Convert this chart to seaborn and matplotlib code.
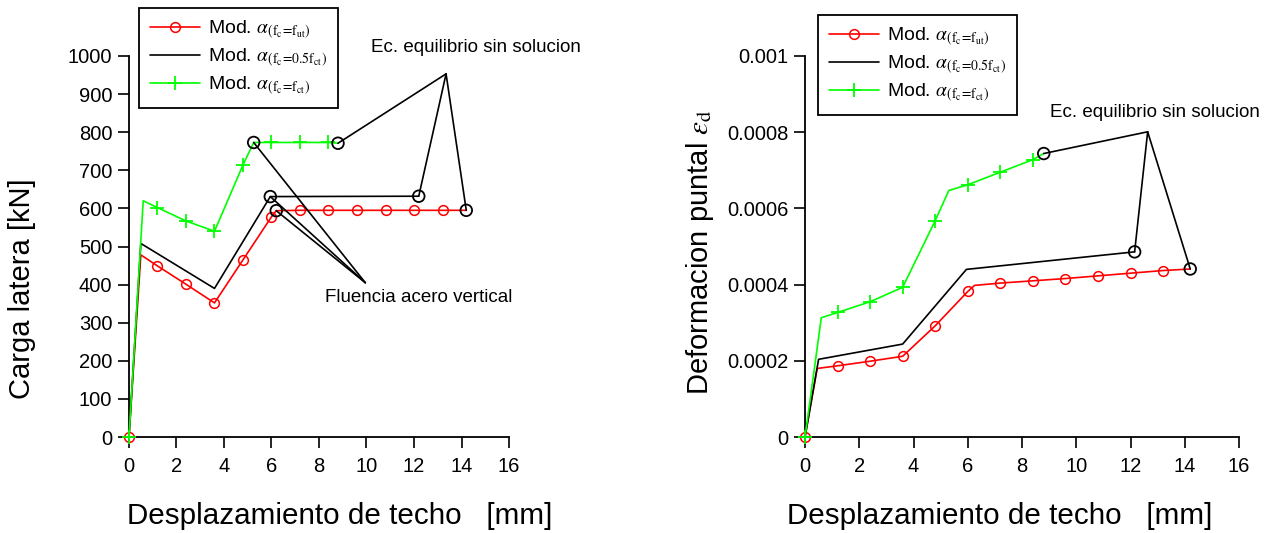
import matplotlib
matplotlib.use("Agg")
import matplotlib.pyplot as plt
import seaborn as sns
import pandas as pd

# ---------------- data: left panel (Carga lateral) ----------------
red_x = [0, 0.5, 1.2, 2.4, 3.6, 4.8, 6.0, 6.2, 7.2, 8.4, 9.6, 10.8, 12.0, 13.2, 14.2]
red_y = [0, 478, 449, 401, 352, 465, 578, 594, 595, 595, 595, 595, 595, 595, 595]
red_marks = [0, 2, 3, 4, 5, 6, 8, 9, 10, 11, 12, 13]

blk_x = [0, 0.5, 3.6, 5.95, 12.2]
blk_y = [0, 508, 390, 631, 632]

grn_x = [0, 0.6, 1.2, 2.4, 3.6, 4.8, 5.25, 6.0, 7.2, 8.4, 8.8]
grn_y = [0, 620, 602, 567, 540, 714, 773, 773, 773, 773, 771]
grn_marks = [0, 2, 3, 4, 5, 7, 8, 9]

# annotation apex points (left)
ec_apex_L = (13.35, 953)
fl_apex_L = (9.95, 405)

# ---------------- data: right panel (Deformacion puntal) ----------------
red2_x = [0, 0.45, 1.2, 2.4, 3.6, 4.8, 6.0, 6.25, 7.2, 8.4, 9.6, 10.8, 12.0, 13.2, 14.2]
red2_y = [0, 0.000180, 0.000187, 0.000199, 0.000212, 0.000292, 0.000382, 0.000398,
          0.000404, 0.000410, 0.000416, 0.000423, 0.000430, 0.000437, 0.000441]
red2_marks = [0, 2, 3, 4, 5, 6, 8, 9, 10, 11, 12, 13]

blk2_x = [0, 0.5, 3.6, 5.95, 12.15]
blk2_y = [0, 0.000204, 0.000244, 0.000440, 0.000486]

grn2_x = [0, 0.6, 1.2, 2.4, 3.6, 4.8, 5.3, 6.0, 7.2, 8.4, 8.8]
grn2_y = [0, 0.000313, 0.000327, 0.000355, 0.000393, 0.000568, 0.000647,
          0.000662, 0.000695, 0.000728, 0.000744]
grn2_marks = [0, 2, 3, 4, 5, 7, 8, 9]

ec_apex_R = (12.63, 0.000801)

# ticks / labels
x_ticks = [0, 2, 4, 6, 8, 10, 12, 14, 16]
yL_ticks = [0, 100, 200, 300, 400, 500, 600, 700, 800, 900, 1000]
yR_ticks = [0, 0.0002, 0.0004, 0.0006, 0.0008, 0.001]
yR_labels = ["0", "0.0002", "0.0004", "0.0006", "0.0008", "0.001"]

leg_labels = [r"Mod. $\alpha_{(\mathrm{f_c\!=\!f_{ut}})}$",
              r"Mod. $\alpha_{(\mathrm{f_c\!=\!0.5f_{ct}})}$",
              r"Mod. $\alpha_{(\mathrm{f_c\!=\!f_{ct}})}$"]
ec_text = "Ec. equilibrio sin solucion"
fl_text = "Fluencia acero vertical"
xlabel = "Desplazamiento de techo   [mm]"

sns.set_theme(style="ticks")
plt.rcParams["font.family"] = ["Liberation Sans", "DejaVu Sans"]
plt.rcParams["mathtext.fontset"] = "stix"
plt.rcParams["text.color"] = "black"
plt.rcParams["axes.labelcolor"] = "black"

RED = "#ff0000"
GRN = "#00ff00"
LW = 1.2

fig = plt.figure(figsize=(12.77, 5.33), dpi=100)
ax1 = fig.add_axes([0.101, 0.180, 0.2976, 0.715])
ax2 = fig.add_axes([0.6304, 0.180, 0.3399, 0.715])


def draw_series(ax, rx, ry, rm, bx, by, gx, gy, gm):
    dr = pd.DataFrame({"x": rx, "y": ry})
    db = pd.DataFrame({"x": bx, "y": by})
    dg = pd.DataFrame({"x": gx, "y": gy})
    sns.lineplot(data=dr, x="x", y="y", ax=ax, color=RED, lw=LW, marker="o",
                 markevery=rm, markersize=7, markerfacecolor="none",
                 markeredgecolor=RED, markeredgewidth=1.1, estimator=None,
                 label=leg_labels[0], clip_on=False, zorder=3)
    sns.lineplot(data=db, x="x", y="y", ax=ax, color="black", lw=LW,
                 estimator=None, label=leg_labels[1], clip_on=False, zorder=3)
    sns.lineplot(data=dg, x="x", y="y", ax=ax, color=GRN, lw=LW, marker="+",
                 markevery=gm, markersize=10, markeredgecolor=GRN,
                 markeredgewidth=1.3, estimator=None, label=leg_labels[2],
                 clip_on=False, zorder=4)


def circles(ax, xs, ys):
    sns.scatterplot(x=xs, y=ys, ax=ax, s=70, facecolor="none",
                    edgecolor="black", linewidth=1.3, zorder=6, clip_on=False)


def pointer(ax, pts, apex):
    for (px, py) in pts:
        ax.plot([px, apex[0]], [py, apex[1]], color="black", lw=LW,
                zorder=5, clip_on=False)


# ---- left panel
draw_series(ax1, red_x, red_y, red_marks, blk_x, blk_y, grn_x, grn_y, grn_marks)
pointer(ax1, [(grn_x[-1], grn_y[-1]), (blk_x[-1], blk_y[-1]),
              (red_x[-1], red_y[-1])], ec_apex_L)
pointer(ax1, [(grn_x[6], grn_y[6]), (blk_x[3], blk_y[3]),
              (red_x[7], red_y[7])], fl_apex_L)
circles(ax1, [grn_x[6], grn_x[-1], blk_x[3], blk_x[-1], red_x[7], red_x[-1]],
        [grn_y[6], grn_y[-1], blk_y[3], blk_y[-1], red_y[7], red_y[-1]])
ax1.text(10.2, 1021, ec_text, fontsize=13.5, ha="left", va="center", clip_on=False)
ax1.text(8.25, 367, fl_text, fontsize=13.5, ha="left", va="center")
ax1.set_xlim(0, 16)
ax1.set_ylim(0, 1000)
ax1.set_xticks(x_ticks)
ax1.set_yticks(yL_ticks)
ax1.set_ylabel("Carga latera [kN]", fontsize=21)
ax1.yaxis.set_label_coords(-0.282, 0.39)

# ---- right panel
draw_series(ax2, red2_x, red2_y, red2_marks, blk2_x, blk2_y, grn2_x, grn2_y, grn2_marks)
pointer(ax2, [(grn2_x[-1], grn2_y[-1]), (blk2_x[-1], blk2_y[-1]),
              (red2_x[-1], red2_y[-1])], ec_apex_R)
circles(ax2, [grn2_x[-1], blk2_x[-1], red2_x[-1]],
        [grn2_y[-1], blk2_y[-1], red2_y[-1]])
ax2.text(9.03, 0.000852, ec_text, fontsize=13.5, ha="left", va="center", clip_on=False)
ax2.set_xlim(0, 16)
ax2.set_ylim(0, 0.001)
ax2.set_xticks(x_ticks)
ax2.set_yticks(yR_ticks)
ax2.set_yticklabels(yR_labels)
ax2.set_ylabel(r"Deformacion puntal $\varepsilon_{\mathrm{d}}$", fontsize=21)
ax2.yaxis.set_label_coords(-0.242, 0.486)

for ax, xc, lx, ly in [(ax1, 0.555, 0.1088, 0.985), (ax2, 0.449, 0.6406, 0.972)]:
    ax.set_xlabel(xlabel, fontsize=21.3)
    ax.xaxis.set_label_coords(xc, -0.207)
    ax.xaxis.label.set_va("center")
    ax.yaxis.label.set_va("center")
    ax.yaxis.label.set_ha("center")
    for s in ["top", "right"]:
        ax.spines[s].set_visible(False)
    for s in ["left", "bottom"]:
        ax.spines[s].set_color("black")
        ax.spines[s].set_linewidth(1.3)
    ax.tick_params(axis="both", direction="out", length=8, width=1.2,
                   colors="black", labelsize=14.5, pad=4)
    ax.tick_params(axis="x", pad=6)
    handles, labels = ax.get_legend_handles_labels()
    leg = ax.legend(handles[:3], labels[:3], loc="upper left",
                    bbox_to_anchor=(lx, ly), bbox_transform=fig.transFigure,
                    borderaxespad=0, fancybox=False, framealpha=1,
                    edgecolor="black", fontsize=14, numpoints=1,
                    handlelength=2.6, handletextpad=0.4, labelspacing=0.3,
                    borderpad=0.55)
    leg.get_frame().set_linewidth(1.3)
    ax.grid(False)

fig.savefig("out.png", dpi=100)
